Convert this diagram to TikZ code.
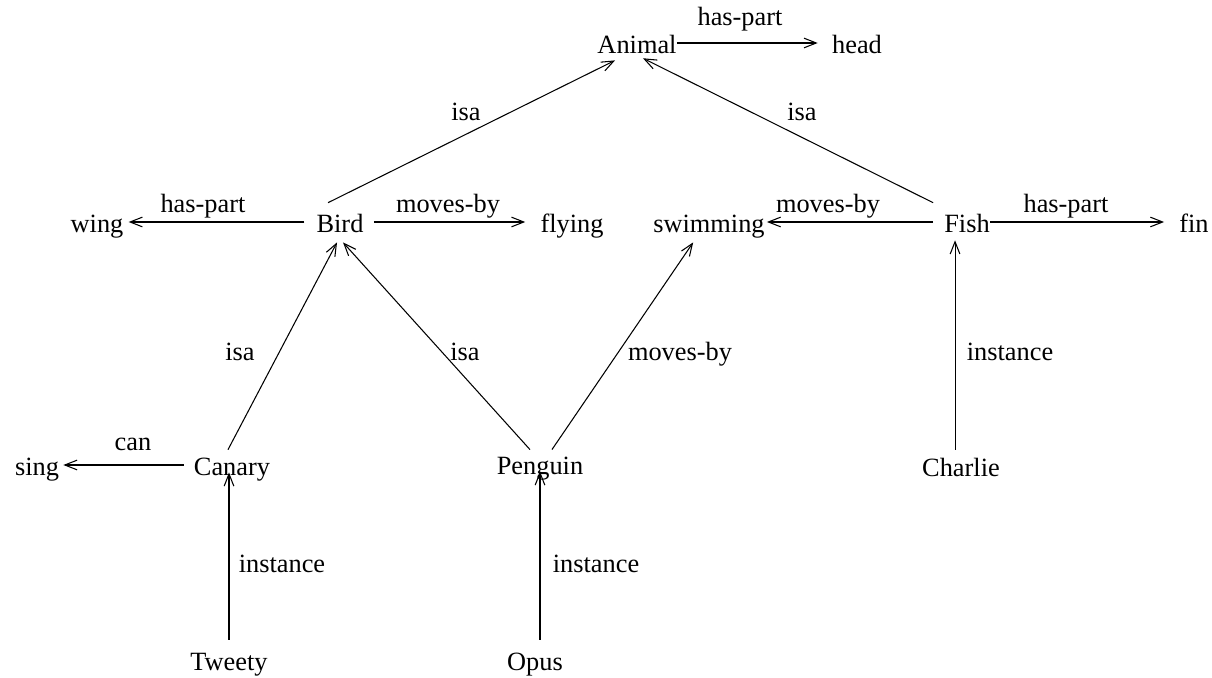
\documentclass[tikz,border=0pt]{standalone}
\usepackage{fontspec}
\setmainfont{Liberation Serif}
\usepackage{tikz}
\usetikzlibrary{arrows.meta,positioning}

\begin{document}
\begin{tikzpicture}[
        x=0.02cm, y=-0.02cm,
        font=\fontsize{15}{18}\selectfont,
        concept/.style={anchor=base, inner sep=0pt, text height=11.4pt, text depth=0pt},
        rel/.style={anchor=base, inner sep=0pt},
        link/.style={-{Straight Barb[length=7pt,width=5.5pt]}, line width=0.6pt},
    ]
    \useasboundingbox (0,0) rectangle (1212,677);

    % concepts
    \node[concept] (animal) at (637,53) {Animal};
    \node[concept] (head) at (857,53) {head};
    \node[concept] (bird) at (340,232) {Bird};
    \node[concept] (wing) at (97,232) {wing};
    \node[concept] (flying) at (572,232) {flying};
    \node[concept] (swimming) at (709,232) {swimming};
    \node[concept] (fish) at (967,232) {Fish};
    \node[concept] (fin) at (1194,232) {fin};
    \node[concept] (canary) at (232,475) {Canary};
    \node[concept] (sing) at (37,475) {sing};
    \node[concept] (penguin) at (540,474) {Penguin};
    \node[concept] (charlie) at (961,476) {Charlie};
    \node[concept] (tweety) at (229,670) {Tweety};
    \node[concept] (opus) at (535,670) {Opus};

    % relation labels
    \node[rel] (l-animal-head) at (740,25) {has-part};
    \node[rel] (l-bird-animal) at (466,120) {isa};
    \node[rel] (l-fish-animal) at (802,120) {isa};
    \node[rel] (l-bird-wing) at (203,212) {has-part};
    \node[rel] (l-bird-flying) at (448,212) {moves-by};
    \node[rel] (l-fish-swimming) at (828,212) {moves-by};
    \node[rel] (l-fish-fin) at (1066,212) {has-part};
    \node[rel] (l-canary-bird) at (240,360) {isa};
    \node[rel] (l-penguin-bird) at (465,360) {isa};
    \node[rel] (l-penguin-swimming) at (680,360) {moves-by};
    \node[rel] (l-charlie-fish) at (1010,360) {instance};
    \node[rel] (l-canary-sing) at (133,450) {can};
    \node[rel] (l-tweety-canary) at (282,572) {instance};
    \node[rel] (l-opus-penguin) at (596,572) {instance};

    % links
    \draw[link, shorten >=8pt] (animal.east) -- (head.west);
    \draw[link] ([xshift=-6.8pt,yshift=5.1pt]bird.north) -- ([xshift=-12.5pt,yshift=-4pt]animal.south);
    \draw[link] ([xshift=-6.2pt,yshift=5.1pt]fish.north west) -- ([xshift=3.4pt,yshift=-2.8pt]animal.south);
    \draw[link, shorten <=6.8pt, shorten >=2.8pt] (bird.west) -- (wing.east);
    \draw[link, shorten <=5.7pt, shorten >=8.5pt] (bird.east) -- (flying.west);
    \draw[link, shorten <=6.2pt, shorten >=1.1pt] (fish.west) -- (swimming.east);
    \draw[link, shorten >=8.5pt] (fish.east) -- (fin.west);
    \draw[link, shorten <=5.7pt, shorten >=2.3pt] (canary.west) -- (sing.east);
    \draw[link] ([xshift=-2.3pt,yshift=2.8pt]canary.north) -- ([xshift=-1.7pt,yshift=-5.7pt]bird.south);
    \draw[link] ([xshift=-5.7pt,yshift=2.3pt]penguin.north) -- ([xshift=1.7pt,yshift=-5.7pt]bird.south);
    \draw[link] ([xshift=6.8pt,yshift=2.3pt]penguin.north) -- ([xshift=-9pt,yshift=-5.7pt]swimming.south);
    \draw[link, shorten <=3.4pt, shorten >=4.5pt] ([xshift=-3.4pt]charlie.north) -- ([xshift=-3.4pt]charlie.north |- fish.south);
    \draw[link, shorten <=5.7pt, shorten >=-1.7pt] (tweety.north) -- (tweety.north |- canary.south);
    \draw[link, shorten <=5.7pt, shorten >=-1.7pt] (opus.north -| penguin.south) -- (penguin.south);
\end{tikzpicture}
\end{document}
